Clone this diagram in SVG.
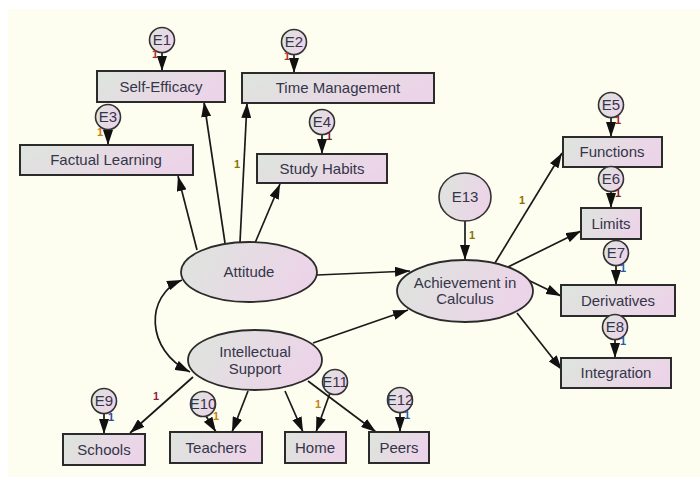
<svg xmlns="http://www.w3.org/2000/svg" width="700" height="483" viewBox="0 0 700 483">
<defs>
<linearGradient id="g" x1="0" y1="0" x2="1" y2="0.3">
<stop offset="0" stop-color="#dde5dd"/>
<stop offset="1" stop-color="#ecd4e8"/>
</linearGradient>
<marker id="ah" markerWidth="15" markerHeight="10" refX="15" refY="5" orient="auto-start-reverse" markerUnits="userSpaceOnUse">
<path d="M0,0 L15,5 L0,10 z" fill="#111"/>
</marker>
<style>
.box{fill:url(#g);stroke:#2b2b2b;stroke-width:2}
.ell{fill:url(#g);stroke:#2b2b2b;stroke-width:1.8}
.err{fill:url(#g);stroke:#333;stroke-width:1.6}
.t{font-family:"Liberation Sans",Arial,sans-serif;font-size:15px;fill:#35354a;text-anchor:middle}
.e{font-family:"Liberation Sans",Arial,sans-serif;font-size:15px;fill:#35354a;text-anchor:middle}
.one{font-family:"Liberation Sans",Arial,sans-serif;font-size:11px;font-weight:bold;text-anchor:middle}
.c path,.c line{stroke:#1a1a1a;stroke-width:1.7;fill:none;marker-end:url(#ah)}
</style>
</defs>
<rect x="0" y="0" width="700" height="483" fill="#ffffff"/>
<rect x="8" y="9" width="692" height="468" fill="#fefef0"/>

<g class="c" id="connectors">
<line x1="197" y1="250" x2="178" y2="176"/>
<line x1="225" y1="243" x2="204" y2="102"/>
<line x1="240" y1="242" x2="247" y2="103"/>
<line x1="255" y1="243" x2="280" y2="184"/>
<line x1="317" y1="275" x2="410" y2="271"/>
<line x1="313" y1="343" x2="408" y2="310"/>
<line x1="465" y1="221" x2="465" y2="260"/>
<line x1="495" y1="263" x2="562" y2="153"/>
<line x1="508" y1="267" x2="581" y2="231"/>
<line x1="528" y1="280" x2="561" y2="296"/>
<line x1="517" y1="313" x2="562" y2="370"/>
<line x1="193" y1="377" x2="130" y2="433"/>
<line x1="248" y1="391" x2="232" y2="432"/>
<line x1="285" y1="391" x2="303" y2="432"/>
<line x1="308" y1="381" x2="376" y2="432"/>
<line x1="162" y1="52" x2="162" y2="71"/>
<line x1="294" y1="54" x2="294" y2="73"/>
<line x1="108" y1="129" x2="108" y2="145"/>
<line x1="322" y1="134" x2="322" y2="154"/>
<line x1="611" y1="117" x2="611" y2="137"/>
<line x1="611" y1="191" x2="611" y2="208"/>
<line x1="616" y1="265" x2="616" y2="285"/>
<line x1="615" y1="339" x2="615" y2="358"/>
<line x1="104" y1="413" x2="104" y2="434"/>
<line x1="206" y1="416" x2="216" y2="432"/>
<line x1="330" y1="393" x2="316" y2="432"/>
<line x1="400" y1="412" x2="400" y2="432"/>
<path d="M182,280 C145,295 145,350 190,372" style="marker-start:url(#ah)"/>
</g>

<g id="self-efficacy"><rect class="box" x="97" y="71" width="128" height="31"/><text class="t" x="161" y="92">Self-Efficacy</text></g>
<g id="time-management"><rect class="box" x="242" y="73" width="192" height="30"/><text class="t" x="338" y="93">Time Management</text></g>
<g id="factual-learning"><rect class="box" x="20" y="145" width="173" height="30"/><text class="t" x="106" y="165">Factual Learning</text></g>
<g id="study-habits"><rect class="box" x="257" y="154" width="130" height="29"/><text class="t" x="322" y="174">Study Habits</text></g>
<g id="functions"><rect class="box" x="563" y="137" width="99" height="30"/><text class="t" x="612" y="157">Functions</text></g>
<g id="limits"><rect class="box" x="581" y="208" width="60" height="31"/><text class="t" x="611" y="229">Limits</text></g>
<g id="derivatives"><rect class="box" x="561" y="285" width="114" height="31"/><text class="t" x="618" y="306">Derivatives</text></g>
<g id="integration"><rect class="box" x="561" y="358" width="110" height="30"/><text class="t" x="616" y="378">Integration</text></g>
<g id="schools"><rect class="box" x="63" y="434" width="82" height="31"/><text class="t" x="104" y="455">Schools</text></g>
<g id="teachers"><rect class="box" x="170" y="432" width="92" height="31"/><text class="t" x="216" y="453">Teachers</text></g>
<g id="home"><rect class="box" x="285" y="432" width="61" height="31"/><text class="t" x="315" y="453">Home</text></g>
<g id="peers"><rect class="box" x="369" y="432" width="60" height="31"/><text class="t" x="399" y="453">Peers</text></g>

<g id="attitude"><ellipse class="ell" cx="249" cy="272" rx="68" ry="30"/><text class="t" x="249" y="277">Attitude</text></g>
<g id="intellectual-support"><ellipse class="ell" cx="255" cy="360" rx="67" ry="30"/><text class="t" x="255" y="357">Intellectual</text><text class="t" x="255" y="374">Support</text></g>
<g id="achievement"><ellipse class="ell" cx="465" cy="291" rx="68" ry="31"/><text class="t" x="465" y="288">Achievement in</text><text class="t" x="465" y="304">Calculus</text></g>

<g id="E1"><circle class="err" cx="162" cy="40" r="12.5"/><text class="e" x="162" y="45">E1</text></g>
<g id="E2"><circle class="err" cx="294" cy="42" r="12.5"/><text class="e" x="294" y="47">E2</text></g>
<g id="E3"><circle class="err" cx="108" cy="117" r="12.5"/><text class="e" x="108" y="122">E3</text></g>
<g id="E4"><circle class="err" cx="322" cy="122" r="12.5"/><text class="e" x="322" y="127">E4</text></g>
<g id="E5"><circle class="err" cx="611" cy="105" r="12.5"/><text class="e" x="611" y="110">E5</text></g>
<g id="E6"><circle class="err" cx="611" cy="179" r="12.5"/><text class="e" x="611" y="184">E6</text></g>
<g id="E7"><circle class="err" cx="616" cy="253" r="12.5"/><text class="e" x="616" y="258">E7</text></g>
<g id="E8"><circle class="err" cx="615" cy="327" r="12.5"/><text class="e" x="615" y="332">E8</text></g>
<g id="E9"><circle class="err" cx="104" cy="401" r="12.5"/><text class="e" x="104" y="406">E9</text></g>
<g id="E10"><circle class="err" cx="203" cy="404" r="12.5"/><text class="e" x="203" y="409">E10</text></g>
<g id="E11"><circle class="err" cx="335" cy="382" r="12.5"/><text class="e" x="335" y="387">E11</text></g>
<g id="E12"><circle class="err" cx="400" cy="400" r="12.5"/><text class="e" x="400" y="405">E12</text></g>
<g id="E13"><ellipse class="err" cx="465" cy="197" rx="26" ry="24"/><text class="e" x="465" y="202">E13</text></g>

<g id="weights">
<text class="one" x="155" y="58" fill="#a03028">1</text>
<text class="one" x="287" y="60" fill="#a83030">1</text>
<text class="one" x="100" y="136" fill="#c88010">1</text>
<text class="one" x="329" y="140" fill="#702030">1</text>
<text class="one" x="237" y="168" fill="#8a7000">1</text>
<text class="one" x="618" y="124" fill="#a02020">1</text>
<text class="one" x="618" y="197" fill="#802028">1</text>
<text class="one" x="522" y="204" fill="#8a7000">1</text>
<text class="one" x="472" y="239" fill="#8a7000">1</text>
<text class="one" x="623" y="272" fill="#2a5aa8">1</text>
<text class="one" x="623" y="345" fill="#2a5aa8">1</text>
<text class="one" x="111" y="421" fill="#2a4aa0">1</text>
<text class="one" x="156" y="400" fill="#902040">1</text>
<text class="one" x="216" y="420" fill="#c88010">1</text>
<text class="one" x="318" y="408" fill="#c88010">1</text>
<text class="one" x="407" y="419" fill="#2a5aa8">1</text>
</g>
</svg>
